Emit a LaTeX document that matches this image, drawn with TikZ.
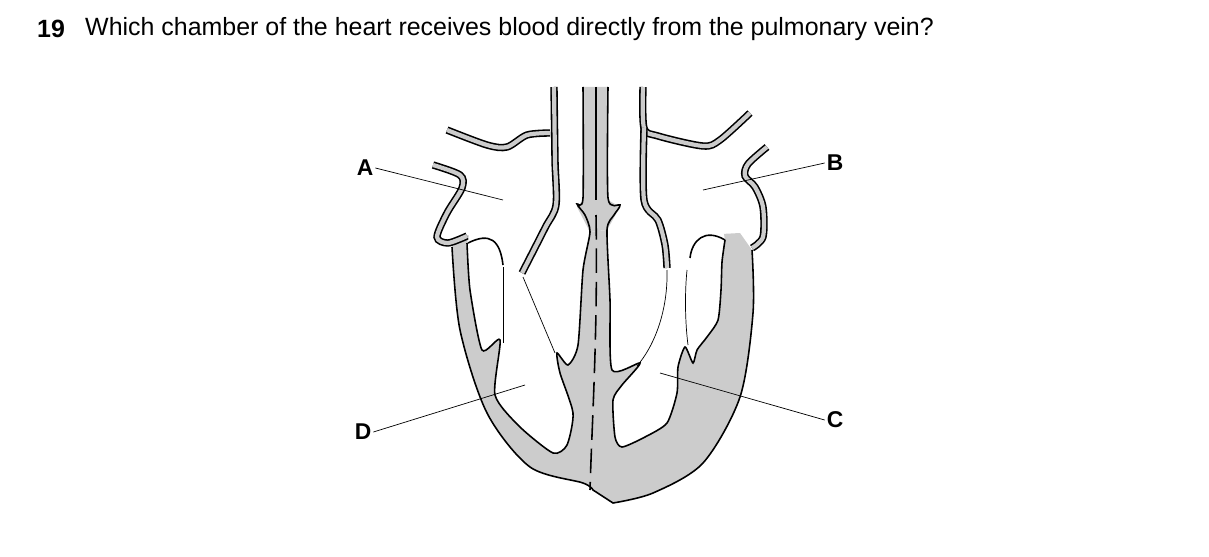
\documentclass[tikz,border=0pt]{standalone}
\usepackage{fontspec}
\setmainfont{Liberation Sans}
\usetikzlibrary{positioning}
\definecolor{heartgray}{gray}{0.8}
\begin{document}
\begin{tikzpicture}[x=0.02cm,y=-0.02cm,
	wall/.style={line width=0.9pt, draw=black, double=heartgray, double distance=2.4pt},
	edge/.style={line width=0.9pt},
	flap/.style={line width=0.4pt},
	lead/.style={line width=0.4pt},
	lbl/.style={font=\bfseries\fontsize{13}{15}\selectfont, inner sep=1pt}]
		\useasboundingbox (0,0) rectangle (1209,557);
		%Question
		\node (Nummer) at (31,29) [anchor=west, font=\bfseries\fontsize{14.2}{17}\selectfont]{19};
		\node (Frage) at (79,29) [anchor=west, font=\fontsize{14.2}{17}\selectfont]{Which chamber of the heart receives blood directly from the pulmonary vein?};
		
		%Muscle of the heart
		\fill[heartgray] plot[smooth, tension=0.5] coordinates {(452,247) (460,330) (487,413) (530,467) (583,483) (593,490)}
			-- (613,503) -- plot[smooth, tension=0.5] coordinates {(613,503) (653,493) (703,463) (740,397) (753,313) (752,250)}
			-- (740,233) -- (703,235) -- (690,258) -- (607,230) -- (590,232) -- (520,275) -- (497,243) -- (467,235) -- cycle;
		%Aorta and septum
		\fill[heartgray] (583,87) -- (608,87) -- (608,200) -- (620,207) -- (607,230) -- (590,232) -- (577,207) -- (583,200) -- cycle;
		
		%Chambers
		\fill[white] plot[smooth, tension=0.4] coordinates {(467,243) (470,290) (482,350) (500,340) (495,395) (520,427) (553,453) (567,445) (573,413) (560,373) (557,353) (568,365) (578,345) (583,270) (590,232)}
			-- (578,222) -- (560,215) -- (475,215) -- cycle;
		\fill[white] plot[smooth, tension=0.4] coordinates {(607,230) (610,300) (612,370) (640,363) (622,385) (613,400) (615,437) (622,447) (645,437) (667,423) (677,393) (678,367) (685,347) (693,363) (697,350) (707,337) (718,320) (721,290) (722,262) (725,240)}
			-- (720,215) -- (640,215) -- (614,224) -- cycle;
		
		%Outlines
		\draw[edge] plot[smooth, tension=0.5] coordinates {(452,247) (460,330) (487,413) (530,467) (583,483) (593,490)}
			-- (613,503) -- plot[smooth, tension=0.5] coordinates {(613,503) (653,493) (703,463) (740,397) (753,313) (752,250)};
		\draw[edge] plot[smooth, tension=0.4] coordinates {(467,243) (470,290) (482,350) (500,340) (495,395) (520,427) (553,453) (567,445) (573,413) (560,373) (557,353) (568,365) (578,345) (583,270) (590,232) (585,215) (577,204) (583,198) (583,87)};
		\draw[edge] plot[smooth, tension=0.4] coordinates {(725,240) (722,262) (721,290) (718,320) (707,337) (697,350) (693,363) (685,347) (678,367) (677,393) (667,423) (645,437) (622,447) (615,437) (613,400) (622,385) (640,363) (612,370) (610,300) (607,230) (614,215) (620,205) (608,198) (608,87)};
		\draw[edge] (468,243) .. controls (490,232) and (500,240) .. (503,265);
		\draw[edge] (725,240) .. controls (705,228) and (692,240) .. (690,258);
		\draw[edge] (596,87) -- (596,200);
		\draw[edge, dash pattern=on 14pt off 5pt] (596,215) .. controls (598,330) and (592,420) .. (590,490);
		
		%Valve flaps
		\draw[flap] (503,267) -- (503,343);
		\draw[flap] (523,277) -- (555,353);
		\draw[flap] (687,270) .. controls (684,300) and (686,330) .. (688,345);
		\draw[flap] (667,270) .. controls (668,310) and (655,345) .. (637,366);
		
		%Vessels
		\draw[wall] plot[smooth, tension=0.5] coordinates {(433,165) (460,175) (462,188) (447,213) (437,237) (448,243) (467,236)};
		\draw[wall] plot[smooth, tension=0.5] coordinates {(767,147) (748,164) (745,176) (755,187) (763,207) (763,237) (752,248)};
		\draw[wall] plot[smooth, tension=0.5] coordinates {(447,130) (487,145) (507,147) (527,135) (550,133)};
		\draw[wall] plot[smooth, tension=0.5] coordinates {(554,87) (555,160) (556,205) (545,228) (522,273)};
		\draw[wall] plot[smooth, tension=0.5] coordinates {(643,87) (644,128) (658,136) (703,146) (720,140) (750,113)};
		\draw[wall] plot[smooth, tension=0.5] coordinates {(644,128) (644,200) (658,220) (665,245) (667,268)};
		
		%Labels
		\node (A) at (365,168) [lbl]{A};
		\node (B) at (835,163) [lbl]{B};
		\node (C) at (835,420) [lbl]{C};
		\node (D) at (363,432) [lbl]{D};
		\coordinate (pA) at (503,200);
		\coordinate (pB) at (703,190);
		\coordinate (pC) at (660,373);
		\coordinate (pD) at (525,385);
		\draw[lead] (A.east) -- (pA);
		\draw[lead] (B.west) -- (pB);
		\draw[lead] (C.west) -- (pC);
		\draw[lead] (D.east) -- (pD);
\end{tikzpicture}
\end{document}
